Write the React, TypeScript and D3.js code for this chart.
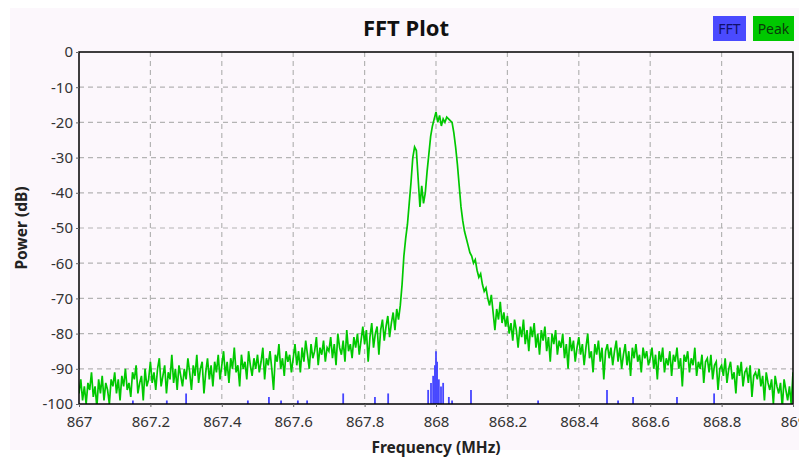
import { useEffect, useRef } from 'react';
import * as d3 from 'd3';

// Peak hold trace, one value per 5 kHz from 867.000 to 869.000 MHz
const peakStart = 867;
const peakStep = 0.005;
const peakValues: number[] = [
  -97, -93, -99, -95, -100, -94, -96, -91, -98, -95, -101, -93, -97, -92, -99, -94, -96, -100, -93, -95,
  -91, -97, -93, -99, -92, -95, -90, -96, -94, -98, -91, -93, -89, -97, -94, -92, -99, -90, -95, -93,
  -88, -94, -91, -96, -90, -87, -95, -92, -89, -97, -91, -93, -86, -94, -90, -96, -89, -92, -95, -90,
  -93, -87, -91, -96, -89, -92, -86, -94, -90, -88, -97, -91, -87, -93, -89, -95, -88, -91, -86, -93,
  -89, -85, -92, -88, -94, -87, -90, -84, -91, -89, -95, -86, -90, -88, -93, -85, -89, -92, -87, -90,
  -86, -91, -88, -84, -93, -87, -89, -85, -90, -96, -86, -88, -83, -90, -87, -92, -85, -88, -86, -91,
  -87, -83, -89, -85, -91, -84, -88, -82, -86, -90, -83, -87, -85, -81, -89, -84, -86, -82, -88, -84,
  -85, -81, -87, -83, -89, -80, -84, -86, -82, -88, -79, -85, -83, -87, -81, -84, -80, -86, -82, -78,
  -83, -79, -88, -81, -77, -84, -80, -78, -86, -79, -76, -82, -78, -75, -81, -77, -74, -79, -73, -76,
  -72, -66, -58, -53, -49, -43, -37, -30, -27, -28, -36, -44, -38, -43, -40, -34, -29, -24, -21, -19,
  -17, -20, -18, -21, -19, -20, -18.5, -19, -19.5, -20, -23, -27, -32, -38, -44, -48, -51, -53, -55, -57,
  -58, -60, -59, -62, -64, -63, -66, -68, -67, -70, -72, -69, -74, -79, -73, -76, -71, -77, -74, -78,
  -75, -80, -77, -82, -76, -79, -84, -78, -81, -76, -83, -79, -85, -78, -81, -77, -84, -80, -86, -79,
  -82, -78, -85, -81, -88, -80, -83, -79, -86, -82, -84, -80, -87, -83, -90, -81, -85, -82, -88, -84,
  -81, -86, -83, -89, -84, -80, -87, -85, -91, -83, -86, -82, -88, -84, -93, -85, -83, -87, -84, -89,
  -85, -82, -88, -84, -90, -86, -83, -89, -85, -92, -84, -87, -83, -88, -86, -91, -84, -87, -85, -89,
  -87, -84, -90, -86, -93, -85, -88, -84, -91, -87, -89, -85, -92, -86, -88, -84, -90, -87, -95, -86,
  -88, -85, -91, -87, -89, -84, -92, -88, -90, -86, -94, -88, -87, -91, -86, -93, -89, -88, -96, -90,
  -89, -92, -87, -94, -90, -88, -93, -91, -97, -89, -92, -88, -95, -91, -90, -94, -89, -98, -92, -91,
  -93, -90, -95, -92, -99, -91, -94, -96, -93, -100, -92, -95, -97, -94, -101, -93, -96, -99, -95, -100, -91,
];

// FFT trace: only the bins that rise above the -100 dB floor
const fftFreqs: number[] = [
  867.151, 867.246, 867.3, 867.473, 867.532, 867.566, 867.613, 867.639, 867.74, 867.829, 867.866,
  867.978, 867.986, 867.992, 867.997, 868.0, 868.003, 868.008, 868.014, 868.02, 868.036, 868.045,
  868.098, 868.286, 868.479, 868.51, 868.552, 868.675, 868.779,
];
const fftValues: number[] = [
  -99, -99, -97, -99, -98, -99, -99, -99, -97, -98, -97,
  -96, -94, -92, -89, -85, -88, -93, -95, -94, -98, -99,
  -96, -99, -96, -99, -98, -98, -97,
];

const xTicks = [867, 867.2, 867.4, 867.6, 867.8, 868, 868.2, 868.4, 868.6, 868.8, 869];
const yTicks = [0, -10, -20, -30, -40, -50, -60, -70, -80, -90, -100];

const W = 799;
const H = 450;
const font = '"Noto Sans", "Open Sans", sans-serif';

const FFTChart = () => {
  const ref = useRef<SVGSVGElement | null>(null);

  useEffect(() => {
    if (!ref.current) return;
    const svg = d3.select(ref.current);
    svg.selectAll('*').remove();

    const margin = { top: 44, right: 14, bottom: 54, left: 71 };
    const iw = W - margin.left - margin.right;
    const ih = H - margin.top - margin.bottom;

    svg.append('rect').attr('x', 2).attr('y', 0).attr('width', W - 2).attr('height', 442).attr('fill', '#fcf7fc');

    const x = d3.scaleLinear().domain([867, 869]).range([0, iw]);
    const y = d3.scaleLinear().domain([-100, 0]).range([ih, 0]);

    const g = svg.append('g').attr('transform', `translate(${margin.left},${margin.top})`);

    svg
      .append('defs')
      .append('clipPath')
      .attr('id', 'plot-clip')
      .append('rect')
      .attr('width', iw)
      .attr('height', ih);

    // grid
    g.append('g')
      .selectAll('line')
      .data(xTicks.slice(1, -1))
      .enter()
      .append('line')
      .attr('x1', (d) => x(d))
      .attr('x2', (d) => x(d))
      .attr('y1', 0)
      .attr('y2', ih)
      .attr('stroke', '#b4b4b4')
      .attr('stroke-width', 1.2)
      .attr('stroke-dasharray', '5,4');
    g.append('g')
      .selectAll('line')
      .data(yTicks.slice(1, -1))
      .enter()
      .append('line')
      .attr('x1', 0)
      .attr('x2', iw)
      .attr('y1', (d) => y(d))
      .attr('y2', (d) => y(d))
      .attr('stroke', '#b4b4b4')
      .attr('stroke-width', 1.2)
      .attr('stroke-dasharray', '5,4');

    const plot = g.append('g').attr('clip-path', 'url(#plot-clip)');

    const peakLine = d3
      .line<number>()
      .x((_, i) => x(peakStart + i * peakStep))
      .y((d) => y(d));
    plot
      .append('path')
      .datum(peakValues)
      .attr('d', peakLine)
      .attr('fill', 'none')
      .attr('stroke', '#00c800')
      .attr('stroke-width', 1.7);

    plot
      .append('g')
      .selectAll('line')
      .data(fftFreqs)
      .enter()
      .append('line')
      .attr('x1', (d) => x(d))
      .attr('x2', (d) => x(d))
      .attr('y1', y(-100))
      .attr('y2', (_, i) => y(fftValues[i]))
      .attr('stroke', '#4646ff')
      .attr('stroke-width', 1.8);

    // frame
    g.append('rect')
      .attr('width', iw)
      .attr('height', ih)
      .attr('fill', 'none')
      .attr('stroke', '#000')
      .attr('stroke-width', 1.5);

    const xAxis = g
      .append('g')
      .attr('transform', `translate(0,${ih})`)
      .call(d3.axisBottom(x).tickValues(xTicks).tickSize(3).tickFormat((d) => d3.format('')(+d)));
    const yAxis = g.append('g').call(d3.axisLeft(y).tickValues(yTicks).tickSize(3).tickFormat((d) => `${d}`));
    [xAxis, yAxis].forEach((a) => {
      a.select('.domain').remove();
      a.selectAll('text').attr('font-family', font).attr('font-size', 15).attr('fill', '#333');
      a.selectAll('line').attr('stroke', '#666');
    });
    xAxis.selectAll('text').attr('y', 23).attr('dy', 0);

    svg
      .append('text')
      .attr('x', 398)
      .attr('y', 28)
      .attr('text-anchor', 'middle')
      .attr('font-family', font)
      .attr('font-weight', 'bold')
      .attr('font-size', 22)
      .attr('fill', '#111')
      .text('FFT Plot');

    svg
      .append('text')
      .attr('x', margin.left + iw / 2)
      .attr('y', 445)
      .attr('text-anchor', 'middle')
      .attr('font-family', font)
      .attr('font-weight', 'bold')
      .attr('font-size', 15.5)
      .attr('fill', '#222')
      .text('Frequency (MHz)');

    svg
      .append('text')
      .attr('transform', `translate(19,${margin.top + ih / 2}) rotate(-90)`)
      .attr('text-anchor', 'middle')
      .attr('font-family', font)
      .attr('font-weight', 'bold')
      .attr('font-size', 15.5)
      .attr('fill', '#222')
      .text('Power (dB)');

    // legend
    const legend = [
      { label: 'FFT', fill: '#4a4aff', text: '#10106a', x: 705, w: 33 },
      { label: 'Peak', fill: '#00c800', text: '#0a3a0a', x: 745, w: 41 },
    ];
    const lg = svg.append('g');
    legend.forEach((l) => {
      lg.append('rect').attr('x', l.x).attr('y', 8).attr('width', l.w).attr('height', 25).attr('fill', l.fill);
      lg.append('text')
        .attr('x', l.x + l.w / 2)
        .attr('y', 26)
        .attr('text-anchor', 'middle')
        .attr('font-family', font)
        .attr('font-size', 14)
        .attr('fill', l.text)
        .text(l.label);
    });
  }, []);

  return <svg ref={ref} width={W} height={H} style={{ display: 'block' }} />;
};

export default function App() {
  return <FFTChart />;
}
